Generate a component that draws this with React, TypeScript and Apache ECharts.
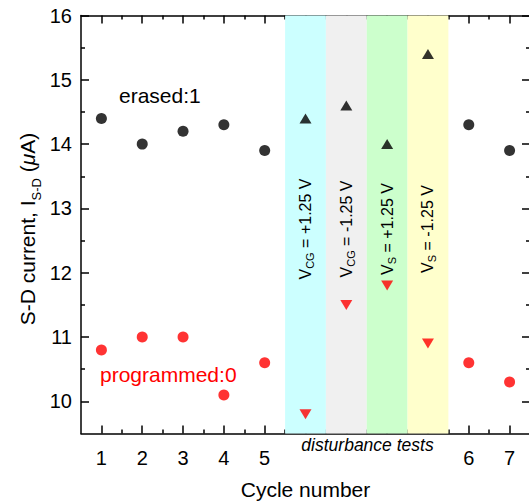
import React, { useEffect, useRef } from 'react';
import * as echarts from 'echarts';

// ---- data ----
const cycleLabels = ['1', '2', '3', '4', '5', '6', '7'];
const cyclePositions = [1, 2, 3, 4, 5, 10, 11];
const erasedCycle = [14.4, 14.0, 14.2, 14.3, 13.9, 14.3, 13.9];
const programmedCycle = [10.8, 11.0, 11.0, 10.1, 10.6, 10.6, 10.3];

const disturbancePositions = [6, 7, 8, 9];
const erasedDisturbance = [14.4, 14.6, 14.0, 15.4];
const programmedDisturbance = [9.8, 11.5, 11.8, 10.9];
const disturbanceSubs = ['CG', 'CG', 'S', 'S'];
const disturbanceVoltages = ['+1.25 V', '-1.25 V', '+1.25 V', '-1.25 V'];
const bandColors = ['#ccffff', '#f0f0f0', '#ccffcc', '#ffffcc'];

const xMajorTicks = [1, 2, 3, 4, 5, 6, 7, 8, 9, 10, 11];
const xMinorTicks = [1.5, 2.5, 3.5, 4.5, 5.5, 6.5, 7.5, 8.5, 9.5, 10.5];
const yMajorTicks = [10, 11, 12, 13, 14, 15, 16];
const yMinorTicks = [10.5, 11.5, 12.5, 13.5, 14.5, 15.5];

const FONT = '"Liberation Sans", Arial, Helvetica, sans-serif';

export default function App() {
  const ref = useRef<HTMLDivElement>(null);

  useEffect(() => {
    if (!ref.current) return;
    const chart = echarts.init(ref.current, undefined, { renderer: 'svg' });

    const labelMap: Record<number, string> = {};
    cyclePositions.forEach((p, i) => (labelMap[p] = cycleLabels[i]));

    const lineStyle = { color: '#000', width: 1.5 };

    const xAxisBase = (position: string, ticks: number[], len: number, showLine: boolean, showLabel: boolean) => ({
      type: 'value',
      position,
      min: 0.5,
      max: 11.5,
      axisLine: { show: showLine, onZero: false, lineStyle },
      axisTick: { show: true, inside: true, length: len, lineStyle, customValues: ticks },
      axisLabel: showLabel
        ? {
            show: true,
            customValues: cyclePositions,
            formatter: (v: number) => labelMap[v] ?? '',
            fontSize: 20,
            color: '#000',
            margin: 14,
            fontFamily: FONT,
          }
        : { show: false },
      splitLine: { show: false },
    });

    const yAxisBase = (position: string, ticks: number[], len: number, showLine: boolean, showLabel: boolean) => ({
      type: 'value',
      position,
      min: 9.5,
      max: 16,
      axisLine: { show: showLine, onZero: false, lineStyle },
      axisTick: { show: true, inside: true, length: len, lineStyle, customValues: ticks },
      axisLabel: showLabel
        ? {
            show: true,
            customValues: yMajorTicks,
            formatter: (v: number) => String(v),
            fontSize: 20,
            color: '#000',
            margin: 9,
            fontFamily: FONT,
          }
        : { show: false },
      splitLine: { show: false },
    });

    const bands = disturbancePositions.map((p, i) => [
      { xAxis: p - 0.5, itemStyle: { color: bandColors[i] } },
      { xAxis: p + 0.5 },
    ]);

    const baseGraphics: any[] = [
      {
        type: 'text',
        id: 'ytitle',
        x: 27.5,
        y: 229,
        rotation: Math.PI / 2,
        style: {
          text: 'S-D current, I{s|S-D} ({mu|μ}A)',
          fontSize: 21,
          lineHeight: 30,
          fontFamily: FONT,
          fill: '#000',
          align: 'center',
          verticalAlign: 'middle',
          rich: {
            s: { fontSize: 13, lineHeight: 12, verticalAlign: 'bottom', fontFamily: FONT, fill: '#000' },
            mu: { fontSize: 21, lineHeight: 30, fontStyle: 'italic', fontFamily: FONT, fill: '#000' },
          },
        },
      },
      {
        type: 'text',
        id: 'xtitle',
        x: 305.5,
        y: 489,
        style: {
          text: 'Cycle number',
          fontSize: 21,
          fontFamily: FONT,
          fill: '#000',
          align: 'center',
          verticalAlign: 'middle',
        },
      },
      {
        type: 'text',
        id: 'dist',
        x: 367.5,
        y: 444.5,
        style: {
          text: 'disturbance tests',
          fontSize: 17.5,
          fontStyle: 'italic',
          fontFamily: FONT,
          fill: '#000',
          align: 'center',
          verticalAlign: 'middle',
        },
      },
      {
        type: 'text',
        id: 'erasedLbl',
        x: 119,
        y: 95.3,
        style: {
          text: 'erased:1',
          fontSize: 21,
          fontFamily: FONT,
          fill: '#000',
          align: 'left',
          verticalAlign: 'middle',
        },
      },
      {
        type: 'text',
        id: 'progLbl',
        x: 100,
        y: 374.4,
        style: {
          text: 'programmed:0',
          fontSize: 21,
          fontFamily: FONT,
          fill: '#ff0000',
          align: 'left',
          verticalAlign: 'middle',
        },
      },
    ];

    chart.setOption({
      animation: false,
      backgroundColor: '#fff',
      grid: { left: 81, top: 15.5, width: 449, height: 418, containLabel: false },
      xAxis: [
        xAxisBase('bottom', xMajorTicks, 8, true, true),
        xAxisBase('bottom', xMinorTicks, 4, false, false),
        xAxisBase('top', xMajorTicks, 8, true, false),
        xAxisBase('top', xMinorTicks, 4, false, false),
      ],
      yAxis: [
        yAxisBase('left', yMajorTicks, 8, true, true),
        yAxisBase('left', yMinorTicks, 4, false, false),
        yAxisBase('right', yMajorTicks, 8, true, false),
        yAxisBase('right', yMinorTicks, 4, false, false),
      ],
      series: [
        {
          name: 'bands',
          type: 'scatter',
          data: [],
          silent: true,
          markArea: {
            silent: true,
            itemStyle: { borderWidth: 0 },
            label: { show: false },
            data: bands,
          },
        },
        {
          name: 'erased',
          type: 'scatter',
          symbol: 'circle',
          symbolSize: 11,
          itemStyle: { color: '#000' },
          data: cyclePositions.map((p, i) => [p, erasedCycle[i]]),
          z: 5,
        },
        {
          name: 'erased disturbance',
          type: 'scatter',
          symbol: 'triangle',
          symbolSize: [12, 10],
          itemStyle: { color: '#000' },
          data: disturbancePositions.map((p, i) => [p, erasedDisturbance[i]]),
          z: 5,
        },
        {
          name: 'programmed',
          type: 'scatter',
          symbol: 'circle',
          symbolSize: 11,
          itemStyle: { color: '#ff0000' },
          data: cyclePositions.map((p, i) => [p, programmedCycle[i]]),
          z: 5,
        },
        {
          name: 'programmed disturbance',
          type: 'scatter',
          symbol: 'triangle',
          symbolRotate: 180,
          symbolSize: [12, 10],
          itemStyle: { color: '#ff0000' },
          data: disturbancePositions.map((p, i) => [p, programmedDisturbance[i]]),
          z: 5,
        },
      ],
      graphic: baseGraphics,
    });

    // band labels placed at the band centres, via the axis scale
    const bandLabels = disturbancePositions.map((p, i) => {
      const px = chart.convertToPixel({ xAxisIndex: 0 }, p) as number;
      return {
        type: 'text',
        id: 'band' + i,
        x: px,
        y: 229,
        rotation: Math.PI / 2,
        z: 10,
        style: {
          text: `V{s|${disturbanceSubs[i]}} = ${disturbanceVoltages[i]}`,
          fontSize: 16,
          lineHeight: 20,
          fontFamily: FONT,
          fill: '#000',
          align: 'center',
          verticalAlign: 'middle',
          rich: {
            s: { fontSize: 11, lineHeight: 10, verticalAlign: 'bottom', fontFamily: FONT, fill: '#000' },
          },
        },
      };
    });
    chart.setOption({ graphic: [...baseGraphics, ...bandLabels] });

    return () => chart.dispose();
  }, []);

  return (
    <div
      style={{
        position: 'fixed',
        left: 0,
        top: 0,
        width: 529,
        height: 501,
        overflow: 'hidden',
        background: '#fff',
      }}
    >
      <div ref={ref} style={{ width: 540, height: 501 }} />
    </div>
  );
}
